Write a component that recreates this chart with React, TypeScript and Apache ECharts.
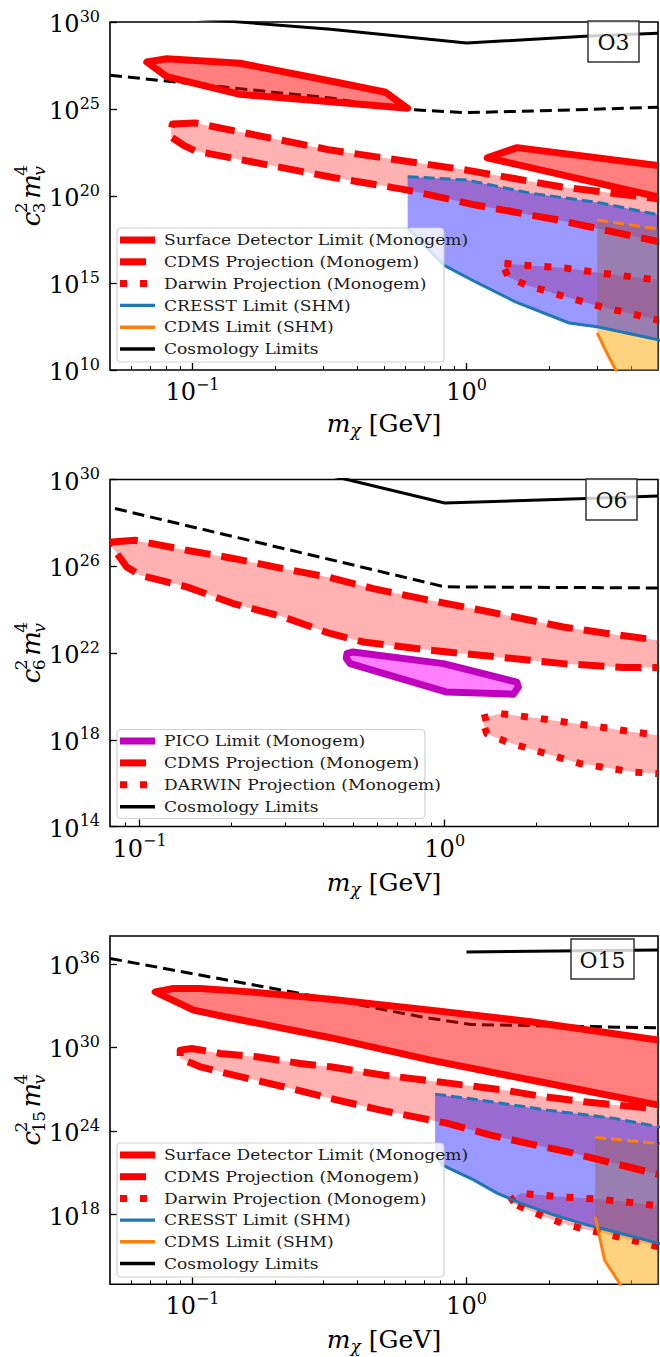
import React, { useEffect, useRef } from 'react';
import * as echarts from 'echarts';

const FONT = '"DejaVu Serif", "Liberation Serif", serif';

// ---------------- axes ----------------
const o3XRange = [0.05, 5];
const o6XRange = [0.08, 5];
const o15XRange = [0.05, 5];
const o3YRange = [10, 30];
const o6YRange = [14, 30];
const o15YRange = [13, 38];
const o3YTicks = [10, 15, 20, 25, 30];
const o6YTicks = [14, 18, 22, 26, 30];
const o15YTicks = [18, 24, 30, 36];
const xMajorExps = [-1, 0];
const xMinorTicks = [0.06, 0.07, 0.08, 0.09, 0.2, 0.3, 0.4, 0.5, 0.6, 0.7, 0.8, 0.9, 2, 3, 4];
const panelLabels = ['O3', 'O6', 'O15'];
const yTitleSubs = ['3', '6', '15'];

// ---------------- data: [mass in GeV, log10(c^2 m_v^4)] ----------------
// O3
const o3CosmoSolid = [[0.05, 30.6], [0.149, 30.0], [0.319, 29.58], [1.0, 28.79], [2.8, 29.2], [5.0, 29.35]];
const o3CosmoDashed = [[0.05, 26.94], [0.319, 25.63], [0.575, 25.0], [1.0, 24.79], [2.21, 24.93], [5.0, 25.1]];
const o3SurfaceA = [[0.0681, 27.7], [0.0806, 27.89], [0.149, 27.63], [0.319, 26.61], [0.507, 25.96], [0.61, 25.04], [0.319, 25.42], [0.149, 25.84], [0.0806, 26.86]];
const o3SurfaceB = [[1.19, 22.2], [1.53, 22.78], [5.0, 21.75], [6.5, 21.52], [6.5, 19.54]];
const o3CdmsProj = [[0.0845, 24.14], [0.1023, 24.2], [0.319, 22.64], [1.0, 21.49], [2.21, 20.53], [5.05, 19.83], [6.5, 19.61], [6.5, 17.0], [4.72, 17.47], [2.16, 18.62], [1.08, 19.48], [0.61, 20.34], [0.319, 21.09], [0.1023, 22.59], [0.0925, 22.93], [0.0835, 23.39], [0.0835, 23.79]];
const o3Darwin = [[1.376, 16.13], [1.594, 16.03], [2.29, 15.86], [3.1, 15.57], [5.0, 15.17], [6.5, 15.0], [6.5, 12.45], [5.0, 12.87], [3.1, 13.64], [2.29, 14.21], [1.648, 14.89], [1.416, 15.36], [1.38, 15.8]];
const o3CresstTop = [[0.61, 21.11], [1.0, 20.92], [1.718, 20.16], [3.1, 19.6], [5.05, 18.91], [6.5, 18.65]];
const o3CresstBottom = [[0.61, 18.16], [0.826, 16.03], [1.08, 15.06], [1.502, 13.93], [2.37, 12.7], [3.0, 12.49], [5.06, 11.72], [6.5, 11.45]];
const o3CdmsLimTop = [[3.0, 18.62], [5.06, 18.1], [6.5, 17.95]];
const o3CdmsLimBottom = [[3.0, 12.13], [3.2, 11.2], [3.49, 10.06], [3.8, 9.0]];

// O6
const o6CosmoSolid = [[0.08, 32.6], [0.478, 30.0], [1.0, 28.92], [2.92, 29.12], [5.0, 29.24]];
const o6CosmoDashed = [[0.0831, 28.66], [0.421, 26.31], [1.0, 25.05], [5.0, 25.0]];
const o6CdmsProj = [[0.0811, 27.12], [0.0966, 27.2], [0.1427, 26.74], [0.2028, 26.36], [0.296, 25.89], [0.421, 25.48], [0.583, 24.97], [0.895, 24.43], [1.408, 23.89], [2.447, 23.2], [3.756, 22.82], [5.01, 22.59], [6.5, 22.42], [6.5, 21.33], [5.01, 21.33], [3.85, 21.33], [2.447, 21.51], [1.481, 21.82], [0.895, 22.13], [0.541, 22.51], [0.421, 22.9], [0.296, 23.66], [0.2028, 24.28], [0.1427, 25.05], [0.1003, 25.59], [0.0907, 25.97], [0.082, 26.82], [0.0795, 27.0]];
const o6Pico = [[0.478, 21.97], [0.5, 22.05], [0.99, 21.51], [1.722, 20.66], [1.743, 20.43], [1.679, 20.1], [1.016, 20.2], [0.49, 21.51], [0.476, 21.75]];
const o6Darwin = [[1.323, 18.98], [1.518, 19.21], [2.053, 18.98], [3.23, 18.59], [4.15, 18.36], [5.0, 18.21], [6.5, 18.05], [6.5, 16.38], [5.0, 16.44], [4.15, 16.51], [2.777, 16.9], [2.053, 17.44], [1.597, 17.9], [1.373, 18.28]];

// O15
const o15CosmoSolid = [[1.0, 36.86], [5.0, 37.0]];
const o15CosmoDashed = [[0.05, 36.39], [0.319, 33.47], [0.681, 32.2], [1.037, 31.65], [2.275, 31.53], [5.0, 31.41]];
const o15Surface = [[0.0731, 33.99], [0.0852, 34.23], [0.1067, 34.23], [0.1626, 33.99], [0.319, 33.46], [0.74, 32.68], [1.719, 31.84], [5.03, 30.53], [6.5, 30.3], [6.5, 25.55], [5.03, 25.86], [1.719, 27.66], [0.74, 29.09], [0.319, 30.7], [0.1413, 32.08], [0.1009, 32.68]];
const o15CdmsProj = [[0.0902, 29.81], [0.0995, 29.93], [0.1263, 29.57], [0.172, 29.33], [0.2477, 28.85], [0.319, 28.61], [0.4995, 28.01], [0.7, 27.66], [0.98, 27.3], [1.373, 26.94], [1.922, 26.46], [2.692, 26.1], [3.567, 25.86], [4.72, 25.63], [6.5, 25.37], [6.5, 20.35], [4.59, 21.08], [3.28, 21.79], [2.341, 22.51], [1.672, 23.11], [1.227, 23.71], [0.852, 24.55], [0.486, 25.5], [0.319, 26.34], [0.2153, 27.18], [0.1413, 28.01], [0.1067, 28.61], [0.0902, 29.21]];
const o15Darwin = [[1.43, 18.95], [1.58, 19.53], [2.213, 19.28], [3.1, 19.1], [4.22, 18.81], [5.03, 18.62], [6.5, 18.43], [6.5, 15.2], [5.0, 15.7], [4.22, 16.06], [3.567, 16.41], [2.62, 17.02], [2.245, 17.38], [1.922, 17.85], [1.624, 18.45]];
const o15CresstTop = [[0.768, 26.65], [1.128, 26.22], [1.978, 25.5], [3.467, 24.91], [5.03, 24.31], [6.5, 23.9]];
const o15CresstBottom = [[0.768, 22.28], [0.817, 21.56], [1.066, 20.48], [1.298, 19.53], [1.58, 18.81], [2.091, 17.97], [2.771, 17.25], [3.467, 16.77], [5.03, 15.94], [6.5, 15.6]];
const o15CdmsLimTop = [[2.95, 23.55], [5.03, 23.11], [6.5, 22.9]];
const o15CdmsLimBottom = [[2.95, 17.85], [3.19, 14.74], [3.61, 13.11], [3.9, 12.0]];

// legends
const legendO3O15 = ['Surface Detector Limit (Monogem)', 'CDMS Projection (Monogem)', 'Darwin Projection (Monogem)', 'CRESST Limit (SHM)', 'CDMS Limit (SHM)', 'Cosmology Limits'];
const legendO6 = ['PICO Limit (Monogem)', 'CDMS Projection (Monogem)', 'DARWIN Projection (Monogem)', 'Cosmology Limits'];

// ---------------- styles ----------------
const RED = '#ff0000';
const BLUE_LINE = '#1f77b4';
const ORANGE_LINE = '#ff7f0e';
const MAGENTA = '#bf00bf';
const FILL_SURF = 'rgba(255,0,0,0.5)';
const FILL_PROJ = 'rgba(255,0,0,0.3)';
const FILL_BLUE = 'rgba(0,0,255,0.4)';
const FILL_ORANGE = 'rgba(255,165,0,0.5)';
const FILL_PICO = 'rgba(255,0,255,0.5)';
const LW = 7;
const DASH = [26, 11];
const DOT = [7, 13];
const BLACK_DASH = [12, 6];
const THIN_DASH = [11, 5];
const BLACK_W = 3;

const GRID_POS = [
  { left: 110, top: 22, width: 548, height: 348 },
  { left: 110, top: 479.5, width: 548, height: 347 },
  { left: 110, top: 936, width: 548, height: 348.3 },
];

const toLog = (pts: number[][]) => pts.map(([m, e]) => [Math.log10(m), e]);

function poly(i: number, pts: number[][], style: any, z: number) {
  const data = toLog(pts);
  return {
    type: 'custom',
    xAxisIndex: i * 2,
    yAxisIndex: i,
    clip: true,
    silent: true,
    z,
    data,
    renderItem: (params: any, api: any) => {
      if (params.dataIndex !== 0) return null;
      const points = data.map((d) => api.coord(d));
      return { type: 'polygon', shape: { points }, style: { lineCap: 'butt', lineJoin: 'round', ...style } };
    },
  };
}

function line(i: number, pts: number[][], lineStyle: any, z: number) {
  return {
    type: 'line',
    xAxisIndex: i * 2,
    yAxisIndex: i,
    data: toLog(pts),
    showSymbol: false,
    symbol: 'none',
    silent: true,
    clip: true,
    z,
    lineStyle: { cap: 'butt', join: 'round', ...lineStyle },
  };
}

const band = (top: number[][], bottom: number[][]) => top.concat(bottom.slice().reverse());
const openBand = (top: number[][], bottom: number[][]) => {
  const last = bottom[bottom.length - 1];
  const right = top[top.length - 1][0];
  return top.concat([[right, last[1]]], bottom.slice().reverse());
};

const tickRich = {
  b: { fontSize: 24, fontFamily: FONT, color: '#000', lineHeight: 28, verticalAlign: 'bottom' },
  s: { fontSize: 16, fontFamily: FONT, color: '#000', lineHeight: 16, verticalAlign: 'top' },
};
const nameRich = {
  i: { fontSize: 25, fontFamily: FONT, fontStyle: 'italic', color: '#000', lineHeight: 30, verticalAlign: 'middle' },
  sb: { fontSize: 17, fontFamily: FONT, fontStyle: 'italic', color: '#000', lineHeight: 12, verticalAlign: 'bottom' },
  n: { fontSize: 25, fontFamily: FONT, color: '#000', lineHeight: 30, verticalAlign: 'middle' },
};

function legendEntries13() {
  return [
    { label: legendO3O15[0], color: RED, width: LW, dash: 'solid' },
    { label: legendO3O15[1], color: RED, width: LW, dash: DASH },
    { label: legendO3O15[2], color: RED, width: LW, dash: DOT },
    { label: legendO3O15[3], color: BLUE_LINE, width: 3.4, dash: 'solid' },
    { label: legendO3O15[4], color: ORANGE_LINE, width: 3.4, dash: 'solid' },
    { label: legendO3O15[5], color: '#000', width: 3.4, dash: 'solid' },
  ];
}
function legendEntries6() {
  return [
    { label: legendO6[0], color: MAGENTA, width: LW, dash: 'solid' },
    { label: legendO6[1], color: RED, width: LW, dash: DASH },
    { label: legendO6[2], color: RED, width: LW, dash: DOT },
    { label: legendO6[3], color: '#000', width: 3.4, dash: 'solid' },
  ];
}

function legendGraphic(box: number[], rowY0: number, step: number, entries: any[]) {
  const els: any[] = [
    {
      type: 'rect',
      shape: { x: box[0], y: box[1], width: box[2], height: box[3], r: 4 },
      style: { fill: 'rgba(255,255,255,0.8)', stroke: 'rgba(204,204,204,0.9)', lineWidth: 1.2 },
      z: 100,
      silent: true,
    },
  ];
  entries.forEach((e, k) => {
    const y = rowY0 + k * step;
    els.push({
      type: 'line',
      shape: { x1: 120, y1: y, x2: 155, y2: y },
      style: { stroke: e.color, lineWidth: e.width, lineDash: e.dash === 'solid' ? null : e.dash, lineCap: 'butt' },
      z: 101,
      silent: true,
    });
    els.push({
      type: 'text',
      x: 164,
      y,
      scaleX: 1.14,
      style: { text: e.label, fontSize: 15, fontFamily: FONT, fill: '#1a1a1a', align: 'left', verticalAlign: 'middle', textAlign: 'left', textVerticalAlign: 'middle' },
      z: 101,
      silent: true,
    });
  });
  return els;
}

function labelBox(x: number, y: number, w: number, h: number, text: string) {
  return [
    {
      type: 'rect',
      shape: { x, y, width: w, height: h },
      style: { fill: 'rgba(255,255,255,0.8)', stroke: '#333', lineWidth: 1.5 },
      z: 100,
      silent: true,
    },
    {
      type: 'text',
      x: x + w / 2,
      y: y + h / 2 + 1,
      style: { text, fontSize: 22, fontFamily: FONT, fill: '#111', align: 'center', verticalAlign: 'middle', textAlign: 'center', textVerticalAlign: 'middle' },
      z: 101,
      silent: true,
    },
  ];
}

function yTitle(cx: number, cy: number, sub: string) {
  const base = 26;
  const scr = 17;
  const t = (text: string, x: number, y: number, size: number, italic: boolean) => ({
    type: 'text',
    x,
    y,
    style: {
      text,
      fontSize: size,
      fontFamily: FONT,
      fontStyle: italic ? 'italic' : 'normal',
      fill: '#000',
      align: 'left',
      verticalAlign: 'middle',
      textAlign: 'left',
      textVerticalAlign: 'middle',
    },
    silent: true,
  });
  const cW = 13;
  const subW = sub.length * 10.5 + 2;
  const mW = 23;
  const vW = 10;
  const total = cW + subW + 2 + mW + vW;
  let x = -total / 2;
  const children: any[] = [];
  children.push(t('c', x, 0, base, true));
  x += cW;
  children.push(t('2', x, -10, scr, false));
  children.push(t(sub, x, 8, scr, false));
  x += subW + 2;
  children.push(t('m', x, 0, base, true));
  x += mW;
  children.push(t('4', x, -10, scr, false));
  children.push(t('v', x, 8, scr, true));
  return { type: 'group', x: cx, y: cy, rotation: Math.PI / 2, children, z: 100 };
}

function buildOption() {
  const panels = [
    { x: o3XRange, y: o3YRange, yTicks: o3YTicks, nameGap: 38 },
    { x: o6XRange, y: o6YRange, yTicks: o6YTicks, nameGap: 41 },
    { x: o15XRange, y: o15YRange, yTicks: o15YTicks, nameGap: 40 },
  ];
  const grid: any[] = [];
  const xAxis: any[] = [];
  const yAxis: any[] = [];
  panels.forEach((p, i) => {
    grid.push({
      ...GRID_POS[i],
      show: true,
      borderColor: '#000',
      borderWidth: 1.6,
      backgroundColor: 'transparent',
      containLabel: false,
      outerBoundsMode: 'none',
    });
    const xmin = Math.log10(p.x[0]);
    const xmax = Math.log10(p.x[1]);
    const minors = xMinorTicks.filter((v) => v > p.x[0] * 1.001 && v < p.x[1] * 0.999).map((v) => Math.log10(v));
    xAxis.push({
      type: 'value',
      gridIndex: i,
      min: xmin,
      max: xmax,
      position: 'bottom',
      name: '{i|m}{sb|χ}{n| [GeV]}',
      nameLocation: 'middle',
      nameGap: p.nameGap,
      nameTextStyle: { rich: nameRich },
      axisLine: { show: false, onZero: false },
      splitLine: { show: false },
      axisTick: { show: true, inside: true, length: 7, customValues: xMajorExps, lineStyle: { color: '#000', width: 1.3 } },
      axisLabel: {
        show: true,
        margin: 6,
        customValues: xMajorExps,
        formatter: (v: number) => {
          const n = Math.round(v);
          return `{b|10}{s|${n < 0 ? '−' + Math.abs(n) : n}}`;
        },
        rich: tickRich,
      },
    });
    xAxis.push({
      type: 'value',
      gridIndex: i,
      min: xmin,
      max: xmax,
      position: 'bottom',
      axisLine: { show: false, onZero: false },
      splitLine: { show: false },
      axisLabel: { show: false },
      axisTick: { show: true, inside: true, length: 4, customValues: minors, lineStyle: { color: '#000', width: 1 } },
    });
    yAxis.push({
      type: 'value',
      gridIndex: i,
      min: p.y[0],
      max: p.y[1],
      position: 'left',
      axisLine: { show: false, onZero: false },
      splitLine: { show: false },
      axisTick: { show: true, inside: true, length: 7, customValues: p.yTicks, lineStyle: { color: '#000', width: 1.3 } },
      axisLabel: {
        show: true,
        margin: 10,
        customValues: p.yTicks,
        formatter: (v: number) => `{b|10}{s|${Math.round(v)}}`,
        rich: tickRich,
      },
    });
  });

  const series: any[] = [];
  // ---- O3 ----
  series.push(line(0, o3CosmoSolid, { color: '#000', width: BLACK_W }, 2));
  series.push(line(0, o3CosmoDashed, { color: '#000', width: BLACK_W, type: BLACK_DASH }, 2));
  series.push(poly(0, o3SurfaceA, { fill: FILL_SURF, stroke: RED, lineWidth: LW }, 3));
  series.push(poly(0, o3SurfaceB, { fill: FILL_SURF, stroke: RED, lineWidth: LW }, 3));
  series.push(poly(0, o3CdmsProj, { fill: FILL_PROJ }, 4));
  series.push(poly(0, o3Darwin, { fill: FILL_PROJ }, 4));
  series.push(poly(0, openBand(o3CdmsLimTop, o3CdmsLimBottom), { fill: FILL_ORANGE }, 5));
  series.push(poly(0, band(o3CresstTop, o3CresstBottom), { fill: FILL_BLUE }, 6));
  series.push(poly(0, o3CdmsProj, { fill: 'none', stroke: RED, lineWidth: LW, lineDash: DASH }, 7));
  series.push(poly(0, o3Darwin, { fill: 'none', stroke: RED, lineWidth: LW, lineDash: DOT }, 7));
  series.push(line(0, o3CresstTop, { color: BLUE_LINE, width: 3, type: THIN_DASH }, 8));
  series.push(line(0, o3CresstBottom, { color: BLUE_LINE, width: 3 }, 8));
  series.push(line(0, o3CdmsLimTop, { color: ORANGE_LINE, width: 3, type: THIN_DASH }, 8));
  series.push(line(0, o3CdmsLimBottom, { color: ORANGE_LINE, width: 3 }, 8));
  // ---- O6 ----
  series.push(line(1, o6CosmoSolid, { color: '#000', width: BLACK_W }, 2));
  series.push(line(1, o6CosmoDashed, { color: '#000', width: BLACK_W, type: BLACK_DASH }, 2));
  series.push(poly(1, o6CdmsProj, { fill: FILL_PROJ }, 4));
  series.push(poly(1, o6Darwin, { fill: FILL_PROJ }, 4));
  series.push(poly(1, o6Pico, { fill: FILL_PICO, stroke: MAGENTA, lineWidth: LW }, 6));
  series.push(poly(1, o6CdmsProj, { fill: 'none', stroke: RED, lineWidth: LW, lineDash: DASH }, 7));
  series.push(poly(1, o6Darwin, { fill: 'none', stroke: RED, lineWidth: LW, lineDash: DOT }, 7));
  // ---- O15 ----
  series.push(line(2, o15CosmoSolid, { color: '#000', width: BLACK_W }, 2));
  series.push(line(2, o15CosmoDashed, { color: '#000', width: BLACK_W, type: BLACK_DASH }, 2));
  series.push(poly(2, o15Surface, { fill: FILL_SURF, stroke: RED, lineWidth: LW }, 3));
  series.push(poly(2, o15CdmsProj, { fill: FILL_PROJ }, 4));
  series.push(poly(2, o15Darwin, { fill: FILL_PROJ }, 4));
  series.push(poly(2, openBand(o15CdmsLimTop, o15CdmsLimBottom), { fill: FILL_ORANGE }, 5));
  series.push(poly(2, band(o15CresstTop, o15CresstBottom), { fill: FILL_BLUE }, 6));
  series.push(poly(2, o15CdmsProj, { fill: 'none', stroke: RED, lineWidth: LW, lineDash: DASH }, 7));
  series.push(poly(2, o15Darwin, { fill: 'none', stroke: RED, lineWidth: LW, lineDash: DOT }, 7));
  series.push(line(2, o15CresstTop, { color: BLUE_LINE, width: 3, type: THIN_DASH }, 8));
  series.push(line(2, o15CresstBottom, { color: BLUE_LINE, width: 3 }, 8));
  series.push(line(2, o15CdmsLimTop, { color: ORANGE_LINE, width: 3, type: THIN_DASH }, 8));
  series.push(line(2, o15CdmsLimBottom, { color: ORANGE_LINE, width: 3 }, 8));

  const graphics: any[] = [
    ...legendGraphic([117, 228, 327, 134], 240, 21.8, legendEntries13()),
    ...legendGraphic([117, 729.5, 308, 89], 741, 21.9, legendEntries6()),
    ...legendGraphic([117, 1143, 327, 134], 1155, 21.7, legendEntries13()),
    ...labelBox(588, 21, 51, 41, panelLabels[0]),
    ...labelBox(586, 479, 51, 41, panelLabels[1]),
    ...labelBox(571, 939, 63, 40, panelLabels[2]),
    yTitle(31, 196, yTitleSubs[0]),
    yTitle(31, 653, yTitleSubs[1]),
    yTitle(31, 1110, yTitleSubs[2]),
  ];

  return {
    animation: false,
    backgroundColor: '#fff',
    grid,
    xAxis,
    yAxis,
    series,
    graphic: { elements: graphics },
  };
}

export default function App() {
  const ref = useRef<HTMLDivElement>(null);
  useEffect(() => {
    document.body.style.margin = '0';
    const chart = echarts.init(ref.current as HTMLDivElement, null, { renderer: 'svg' });
    chart.setOption(buildOption() as any);
    return () => chart.dispose();
  }, []);
  return <div ref={ref} style={{ width: 660, height: 1357 }} />;
}
